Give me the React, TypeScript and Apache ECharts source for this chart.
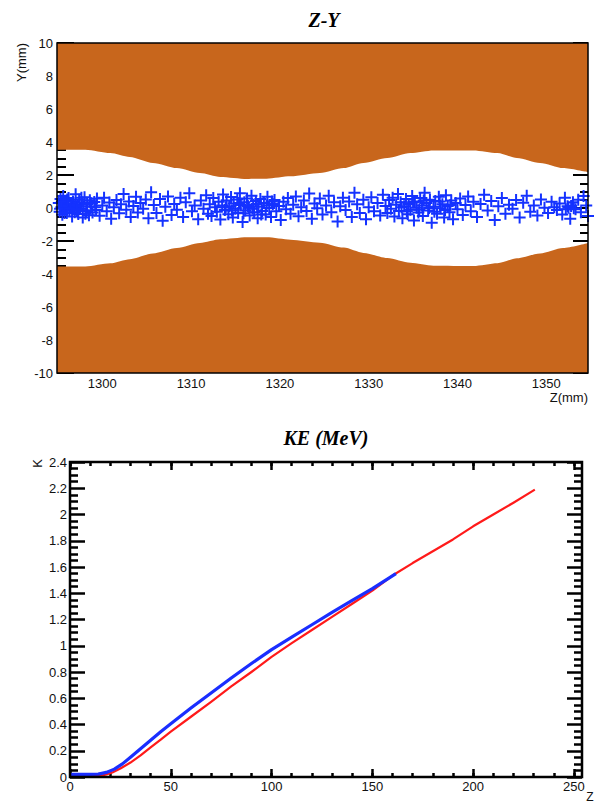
import React, { useEffect, useRef } from "react";
import * as echarts from "echarts";

// ---------- Top plot (Z-Y) ----------
const zyLabelValues = [1300, 1310, 1320, 1330, 1340, 1350];

const edgeZ = [1294.9, 1298.1, 1300.9, 1303.1, 1305.7, 1308.4, 1311.0, 1313.3, 1316.3, 1318.5, 1321.2, 1324.5, 1327.2, 1329.4, 1332.1, 1334.7, 1337.3, 1341.8, 1344.5, 1346.7, 1349.3, 1351.9, 1354.7];
const upperEdgeY = [3.53, 3.53, 3.33, 3.09, 2.73, 2.42, 2.12, 1.88, 1.76, 1.78, 1.92, 2.12, 2.42, 2.73, 3.03, 3.33, 3.49, 3.49, 3.33, 3.03, 2.73, 2.42, 2.16];
const lowerEdgeY = [-3.54, -3.54, -3.35, -3.1, -2.75, -2.42, -2.12, -1.9, -1.78, -1.78, -1.92, -2.1, -2.4, -2.72, -3.03, -3.32, -3.5, -3.52, -3.35, -3.05, -2.75, -2.42, -2.12];

const beamPoints: [number, number][] = [
  [1295.1, 0.31], [1295.2, -0.22], [1295.3, 0.55], [1295.4, 0.05], [1295.5, -0.41], [1295.6, 0.72], [1295.7, 0.18], [1295.8, -0.08], [1295.9, 0.44], [1296.0, -0.30],
  [1296.1, 0.12], [1296.2, 0.61], [1296.3, -0.15], [1296.5, 0.27], [1296.6, -0.52], [1296.7, 0.40], [1296.8, 0.02], [1296.9, -0.25], [1297.0, 0.83], [1297.2, 0.20],
  [1297.3, -0.36], [1297.4, 0.50], [1297.5, -0.05], [1297.7, 0.34], [1297.8, -0.58], [1297.9, 0.10], [1298.0, 0.65], [1298.2, -0.18], [1298.3, 0.25], [1298.5, -0.44],
  [1298.6, 0.47], [1298.8, 0.08], [1298.9, -0.28], [1299.1, 0.37], [1299.3, -0.12], [1299.4, 0.58],
  [1295.25, -0.05], [1295.45, 0.38], [1295.75, -0.30], [1296.05, 0.52], [1296.45, -0.02], [1296.95, 0.15], [1297.15, -0.12], [1297.65, 0.62], [1298.1, -0.35], [1298.7, 0.30], [1299.2, 0.05],
  [1299.7, -0.47], [1300.0, 0.15], [1300.2, 0.62], [1300.5, -0.20], [1300.8, 0.33], [1301.0, -0.65], [1301.3, 0.05], [1301.6, 0.48], [1301.9, -0.32], [1302.1, 0.22],
  [1302.4, 0.85], [1302.7, -0.10], [1303.0, 0.40], [1303.2, -0.55], [1303.5, 0.12], [1303.8, 0.68], [1304.0, -0.28], [1304.3, 0.30], [1304.6, -0.05], [1304.9, 0.52],
  [1305.2, -0.62], [1305.5, 0.95], [1305.8, 0.18], [1306.1, -0.30], [1306.5, 0.55], [1306.8, -0.78], [1307.1, 0.08], [1307.4, 0.70], [1307.8, -0.42], [1308.1, 0.25],
  [1308.4, -0.10], [1308.8, 0.62], [1309.1, -0.55], [1309.4, 0.35], [1309.8, 0.90], [1310.1, -0.20], [1310.4, 0.15], [1310.8, -0.68], [1311.1, 0.45], [1311.4, -0.05],
  [1311.7, 0.78], [1311.9, -0.35],
  [1312.1, 0.22], [1312.3, -0.48], [1312.5, 0.60], [1312.7, 0.05], [1312.9, -0.22], [1313.1, 0.38], [1313.3, -0.70], [1313.5, 0.15], [1313.6, 0.82], [1313.8, -0.12],
  [1314.0, 0.45], [1314.2, -0.38], [1314.3, 0.10], [1314.5, 0.66], [1314.7, -0.58], [1314.8, 0.28], [1315.0, -0.05], [1315.2, 0.52], [1315.3, -0.30], [1315.5, 0.90],
  [1315.6, 0.18], [1315.8, -0.85], [1316.0, 0.35], [1316.1, -0.15], [1316.3, 0.58], [1316.5, 0.02], [1316.6, -0.45], [1316.8, 0.75], [1317.0, 0.20], [1317.1, -0.25],
  [1317.3, 0.42], [1317.5, -0.62], [1317.6, 0.08], [1317.8, 0.55], [1318.0, -0.18], [1318.2, 0.30], [1318.4, -0.40], [1318.6, 0.68], [1318.8, 0.00], [1319.0, -0.55],
  [1319.2, 0.25], [1319.4, 0.48], [1319.6, -0.20], [1319.9, 0.12], [1320.1, -0.72], [1320.4, 0.38], [1320.7, -0.08], [1320.9, 0.60],
  [1313.9, 0.05], [1314.6, -0.15], [1315.4, 0.30], [1315.9, -0.32], [1316.4, 0.12], [1316.9, -0.05], [1317.4, 0.25], [1317.9, -0.40], [1318.5, 0.15], [1319.1, 0.40],
  [1321.2, -0.35], [1321.5, 0.20], [1321.8, 0.70], [1322.1, -0.50], [1322.4, 0.05], [1322.7, 0.45], [1323.0, -0.18], [1323.3, 0.88], [1323.6, -0.65], [1323.9, 0.28],
  [1324.2, -0.02], [1324.5, 0.58], [1324.8, -0.40], [1325.2, 0.15], [1325.5, 0.75], [1325.8, -0.25], [1326.1, 0.35], [1326.5, -0.82], [1326.8, 0.10], [1327.1, 0.62],
  [1327.4, -0.12], [1327.8, 0.40], [1328.1, -0.55], [1328.4, 0.92], [1328.7, 0.22], [1329.0, -0.30], [1329.4, 0.50], [1329.7, -0.68], [1330.0, 0.05], [1330.3, 0.65],
  [1330.6, -0.20], [1331.0, 0.30], [1331.3, -0.45], [1331.6, 0.80], [1331.9, 0.12],
  [1332.1, -0.30], [1332.3, 0.48], [1332.5, -0.05], [1332.7, 0.62], [1332.9, -0.52], [1333.1, 0.20], [1333.3, 0.85], [1333.4, -0.18], [1333.6, 0.35], [1333.8, -0.62],
  [1334.0, 0.10], [1334.2, 0.55], [1334.4, -0.38], [1334.5, 0.25], [1334.7, -0.10], [1334.9, 0.72], [1335.1, -0.75], [1335.2, 0.40], [1335.4, 0.02], [1335.6, -0.28],
  [1335.8, 0.60], [1336.0, 0.15], [1336.1, -0.48], [1336.3, 0.92], [1336.5, 0.30], [1336.7, -0.15], [1336.9, 0.50], [1337.1, -0.90], [1337.3, 0.08], [1337.5, 0.42],
  [1337.7, -0.35], [1337.9, 0.68], [1338.1, -0.02], [1338.3, 0.22], [1338.5, -0.58], [1338.7, 0.78], [1338.9, 0.12], [1339.1, -0.25], [1339.3, 0.45], [1339.5, -0.68],
  [1339.8, 0.30], [1340.0, -0.08], [1340.3, 0.58], [1340.6, -0.42], [1340.9, 0.18], [1341.2, 0.70], [1341.5, -0.20], [1341.8, 0.38],
  [1333.7, 0.05], [1334.3, -0.20], [1335.0, 0.35], [1335.7, -0.10], [1336.2, 0.45], [1336.8, 0.00], [1337.4, -0.22], [1338.0, 0.40], [1338.6, -0.12], [1339.2, 0.18],
  [1342.2, -0.55], [1342.6, 0.25], [1343.0, 0.80], [1343.4, -0.15], [1343.8, 0.42], [1344.2, -0.72], [1344.6, 0.10], [1345.0, 0.60], [1345.4, -0.35], [1345.8, 0.20],
  [1346.2, -0.05], [1346.6, 0.48], [1347.0, -0.58], [1347.4, 0.32], [1347.8, 0.75], [1348.2, -0.22], [1348.6, 0.15], [1349.0, -0.45], [1349.4, 0.52], [1349.8, 0.02],
  [1350.2, -0.30], [1350.6, 0.38], [1350.9, 0.05], [1351.2, -0.12], [1351.5, 0.28], [1351.8, -0.40], [1352.1, 0.62], [1352.4, 0.10], [1352.7, -0.65], [1353.0, 0.35],
  [1353.3, -0.08], [1353.6, 0.50], [1353.9, -0.25], [1354.2, 0.72], [1354.5, 0.15], [1354.7, -0.48],
  [1352.2, -0.08], [1352.5, 0.02], [1352.8, 0.12], [1353.1, -0.02],
];

// ---------- Bottom plot (KE) ----------
const keMajorZ = [0, 50, 100, 150, 200, 250];
const keMinorZ = [0, 10, 20, 30, 40, 50, 60, 70, 80, 90, 100, 110, 120, 130, 140, 150, 160, 170, 180, 190, 200, 210, 220, 230, 240, 250];

const redZ = [0, 10, 15, 18, 21, 25, 30, 35, 40, 45, 50, 60, 70, 80, 90, 100, 110, 120, 130, 140, 150, 160, 170, 180, 190, 200, 210, 220, 230.6];
const redK = [0.005, 0.005, 0.008, 0.02, 0.035, 0.065, 0.11, 0.165, 0.225, 0.285, 0.345, 0.459, 0.573, 0.69, 0.80, 0.915, 1.02, 1.12, 1.22, 1.32, 1.42, 1.535, 1.63, 1.72, 1.81, 1.91, 2.0, 2.09, 2.19];

const blueZ = [0, 10, 14, 18, 22, 26, 30, 35, 40, 45, 50, 60, 70, 80, 90, 100, 110, 120, 130, 140, 150, 161.7];
const blueK = [0.02, 0.02, 0.022, 0.035, 0.06, 0.10, 0.15, 0.215, 0.28, 0.345, 0.405, 0.525, 0.64, 0.755, 0.865, 0.97, 1.065, 1.16, 1.255, 1.345, 1.435, 1.55];

const BROWN = "#c8661c";
const BEAM_BLUE = "#1432ff";
const SANS = "Liberation Sans, Arial, sans-serif";
const SERIF = "Liberation Serif, Times New Roman, serif";

export default function App() {
  const ref = useRef<HTMLDivElement>(null);

  useEffect(() => {
    if (!ref.current) return;
    const chart = echarts.init(ref.current, undefined, { renderer: "svg" });

    const plain = (v: number) => String(Math.round(v * 1000) / 1000);
    const labelStyle = { color: "#111", fontFamily: SANS, fontSize: 13, formatter: plain };
    const noLine = { show: false, onZero: false };

    const option: any = {
      animation: false,
      backgroundColor: "#fff",
      grid: [
        { left: 57, top: 43, width: 531, height: 330, show: true, borderColor: "#000", borderWidth: 1.5, backgroundColor: "transparent", z: 10, outerBoundsMode: "none" },
        { left: 70, top: 462, width: 512, height: 315, show: true, borderColor: "#000", borderWidth: 2.5, backgroundColor: "transparent", z: 10, outerBoundsMode: "none" },
      ],
      xAxis: [
        {
          gridIndex: 0, type: "value", position: "bottom", min: 1294.9, max: 1354.7,
          axisLine: noLine, axisTick: { show: false }, splitLine: { show: false },
          axisLabel: { ...labelStyle, margin: 4, customValues: zyLabelValues },
        },
        {
          gridIndex: 1, type: "value", position: "bottom", min: 0, max: 254,
          axisLine: noLine, splitLine: { show: false },
          axisTick: { show: true, inside: true, length: 8, lineStyle: { color: "#000", width: 2.5 }, customValues: keMajorZ },
          axisLabel: { ...labelStyle, margin: 3, customValues: keMajorZ },
        },
        {
          gridIndex: 1, type: "value", position: "bottom", min: 0, max: 254,
          axisLine: noLine, splitLine: { show: false }, axisLabel: { show: false },
          axisTick: { show: true, inside: true, length: 4, lineStyle: { color: "#000", width: 2.5 }, customValues: keMinorZ },
        },
        {
          gridIndex: 1, type: "value", position: "top", min: 0, max: 254,
          axisLine: noLine, splitLine: { show: false }, axisLabel: { show: false },
          axisTick: { show: true, inside: true, length: 8, lineStyle: { color: "#000", width: 2.5 }, customValues: keMajorZ },
        },
        {
          gridIndex: 1, type: "value", position: "top", min: 0, max: 254,
          axisLine: noLine, splitLine: { show: false }, axisLabel: { show: false },
          axisTick: { show: true, inside: true, length: 4, lineStyle: { color: "#000", width: 2.5 }, customValues: keMinorZ },
        },
      ],
      yAxis: [
        {
          gridIndex: 0, type: "value", position: "left", min: -10, max: 10, interval: 2,
          axisLine: noLine, splitLine: { show: false },
          axisTick: { show: true, inside: true, length: 17, lineStyle: { color: "#000", width: 2 } },
          minorTick: { show: true, splitNumber: 4, length: 9, lineStyle: { color: "#000", width: 2 } },
          axisLabel: { ...labelStyle, margin: 4 },
        },
        {
          gridIndex: 0, type: "value", position: "right", min: -10, max: 10, interval: 2,
          axisLine: noLine, splitLine: { show: false }, axisLabel: { show: false },
          axisTick: { show: true, inside: true, length: 15, lineStyle: { color: "#000", width: 2 } },
          minorTick: { show: true, splitNumber: 4, length: 8, lineStyle: { color: "#000", width: 2 } },
        },
        {
          gridIndex: 1, type: "value", position: "left", min: 0, max: 2.4, interval: 0.2,
          axisLine: noLine, splitLine: { show: false },
          axisTick: { show: true, inside: true, length: 15, lineStyle: { color: "#000", width: 2.5 } },
          minorTick: { show: true, splitNumber: 4, length: 8, lineStyle: { color: "#000", width: 2.5 } },
          axisLabel: { ...labelStyle, margin: 3 },
        },
        {
          gridIndex: 1, type: "value", position: "right", min: 0, max: 2.4, interval: 0.2,
          axisLine: noLine, splitLine: { show: false }, axisLabel: { show: false },
          axisTick: { show: true, inside: true, length: 15, lineStyle: { color: "#000", width: 2.5 } },
          minorTick: { show: true, splitNumber: 4, length: 8, lineStyle: { color: "#000", width: 2.5 } },
        },
      ],
      series: [
        {
          type: "line", xAxisIndex: 0, yAxisIndex: 0,
          data: edgeZ.map((z, i) => [z, upperEdgeY[i]]),
          showSymbol: false, smooth: 0.25, smoothMonotone: "x",
          lineStyle: { width: 0, color: BROWN },
          areaStyle: { color: BROWN, opacity: 1, origin: "end" },
          silent: true,
        },
        {
          type: "line", xAxisIndex: 0, yAxisIndex: 0,
          data: edgeZ.map((z, i) => [z, lowerEdgeY[i]]),
          showSymbol: false, smooth: 0.25, smoothMonotone: "x",
          lineStyle: { width: 0, color: BROWN },
          areaStyle: { color: BROWN, opacity: 1, origin: "start" },
          silent: true,
        },
        {
          type: "scatter", xAxisIndex: 0, yAxisIndex: 0,
          data: beamPoints,
          symbol: "path://M0,5L10,5M5,0L5,10",
          symbolSize: 12,
          itemStyle: { color: BEAM_BLUE, borderColor: BEAM_BLUE, borderWidth: 2, opacity: 1 },
          silent: true,
        },
        {
          type: "line", xAxisIndex: 1, yAxisIndex: 2,
          data: redZ.map((z, i) => [z, redK[i]]),
          showSymbol: false, smooth: false,
          lineStyle: { width: 2.2, color: "#ff1a1a", join: "round" },
          silent: true,
        },
        {
          type: "line", xAxisIndex: 1, yAxisIndex: 2,
          data: blueZ.map((z, i) => [z, blueK[i]]),
          showSymbol: false, smooth: false,
          lineStyle: { width: 3.2, color: "#1a2eff", join: "round" },
          silent: true,
        },
      ],
      graphic: [
        { type: "text", x: 324, y: 20, style: { text: "Z-Y", font: `italic bold 20px ${SERIF}`, fill: "#000", align: "center", verticalAlign: "middle" } },
        { type: "text", x: 326, y: 438, style: { text: "KE (MeV)", font: `italic bold 20px ${SERIF}`, fill: "#000", align: "center", verticalAlign: "middle" } },
        { type: "text", x: 21, y: 43, rotation: Math.PI / 2, style: { text: "Y(mm)", font: `13px ${SANS}`, fill: "#111", align: "right", verticalAlign: "middle" } },
        { type: "text", x: 588, y: 397, style: { text: "Z(mm)", font: `13px ${SANS}`, fill: "#111", align: "right", verticalAlign: "middle" } },
        { type: "text", x: 37, y: 459, rotation: Math.PI / 2, style: { text: "K", font: `13px ${SANS}`, fill: "#111", align: "right", verticalAlign: "middle" } },
        { type: "text", x: 590, y: 803, style: { text: "Z", font: `12px ${SANS}`, fill: "#111", align: "center", verticalAlign: "bottom" } },
      ],
    };

    chart.setOption(option);
    return () => chart.dispose();
  }, []);

  return (
    <div
      ref={ref}
      style={{ position: "absolute", left: 0, top: 0, width: 594, height: 803, background: "#fff" }}
    />
  );
}
